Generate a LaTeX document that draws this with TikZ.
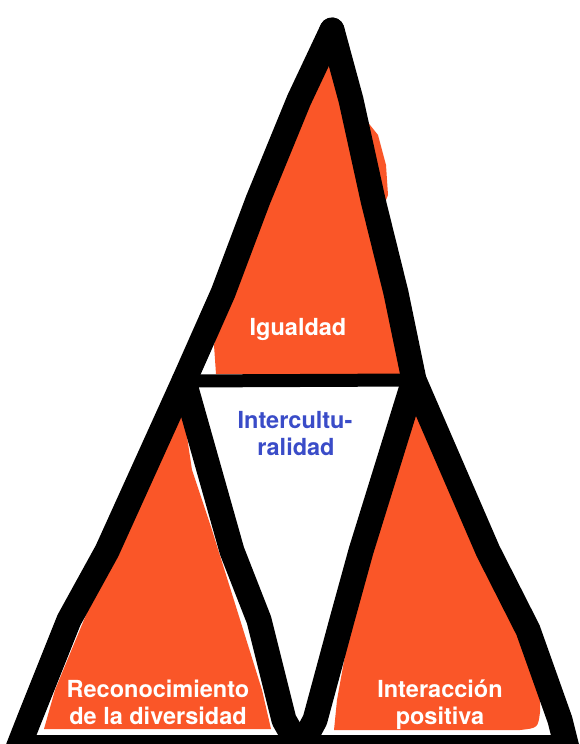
\documentclass[tikz,border=0pt]{standalone}
\usepackage{fontspec}
\setmainfont{TeX Gyre Heros}
\definecolor{orng}{RGB}{250,86,40}
\definecolor{blu}{RGB}{58,76,200}
\begin{document}
\begin{tikzpicture}[x=1pt,y=-1pt,
  blk/.style={line width=25pt, line cap=round, line join=round, draw=black},
  bar/.style={line width=13pt, line cap=round, draw=black},
  base/.style={line width=26pt, draw=black},
  fillo/.style={fill=orng, draw=none},
  lbl/.style={font=\bfseries\fontsize{23.5}{27}\selectfont, text=white, inner sep=0pt, anchor=base},
  lblb/.style={lbl, text=blu}]
\useasboundingbox (0,0) rectangle (579,744);
\clip (0,0) rectangle (579,744);
\fill[white] (0,0) rectangle (579,744);
% key points
\coordinate (apex) at (332,30);
\coordinate (lj) at (184,381);
\coordinate (rj) at (414,380);
\coordinate (bl) at (18,748);
\coordinate (bm) at (300,748);
\coordinate (br) at (567,748);
% orange fills
\path[fillo] (330,52) -- (366,120) -- (378,135) -- (386,165) -- (388,195) -- (380,215) -- (400,330) -- (412,374) -- (216,374) -- (214,345) -- (222,318) -- (240,270) -- (305,90) -- cycle;
\path[fillo] (181,392) -- (186,430) -- (192,470) -- (212,530) -- (262,690) -- (271,729) -- (44,729) -- (55,690) -- (150,460) -- cycle;
\path[fillo] (414,392) -- (445,470) -- (488,565) -- (522,640) -- (540,700) -- (540,712) .. controls (538,728) .. (520,730) -- (334,730) -- (337,700) -- (355,600) -- (380,500) -- (405,420) -- cycle;
% black strokes
\draw[blk] (apex) -- (299,100) -- (258,200) -- (223,293) -- (lj) -- (107,551) -- (69,620) -- (29,720) -- (bl);
\draw[blk] (apex) -- (351,100) -- (373,200) -- (396,293) -- (rj) -- (488,551) -- (528,630) -- (560,720) -- (br);
\draw[blk] (lj) -- (232,551) -- (259,620) -- (284,720) -- (bm);
\draw[blk] (rj) -- (361,551) -- (342,620) -- (315,720) -- (bm);
\draw[bar] (lj) -- (rj);
\draw[base] (bl) -- (bm) -- (br);
% labels
\node[lbl] (igual) at (298,335) {Igualdad};
\node[lblb] (inter1) at (295,428) {Intercultu-};
\node[lblb] (inter2) at (296,455) {ralidad};
\node[lbl] (rec1) at (158,697) {Reconocimiento};
\node[lbl] (rec2) at (158,724) {de la diversidad};
\node[lbl] (ia1) at (440,697) {Interacción};
\node[lbl] (ia2) at (440,724) {positiva};
\end{tikzpicture}
\end{document}
